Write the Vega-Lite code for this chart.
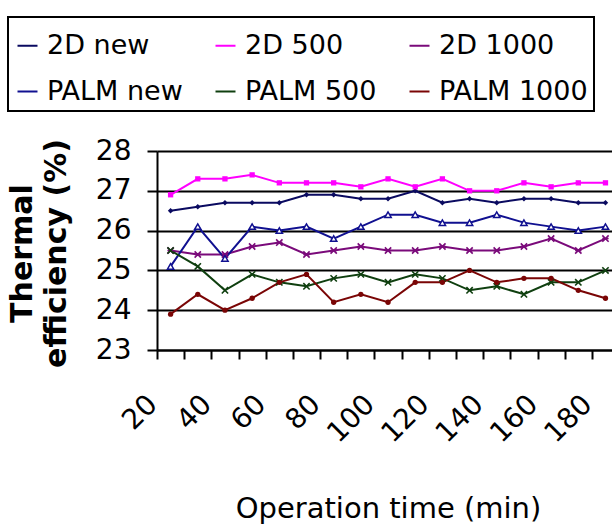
{
  "$schema": "https://vega.github.io/schema/vega-lite/v6.json",
  "autosize": {"type": "none"},
  "width": 455,
  "height": 199,
  "padding": {"left": 157, "top": 151, "right": 0, "bottom": 177},
  "background": "white",
  "config": {
    "font": "DejaVu Sans",
    "view": {"stroke": null},
    "legend": {"strokeWidth": 2},
    "axisY": {
      "values": [23, 24, 25, 26, 27, 28],
      "labelOverlap": false,
      "grid": true, "gridColor": "black", "gridWidth": 2, "gridOpacity": 1,
      "domainColor": "black", "domainWidth": 2,
      "tickColor": "black", "tickWidth": 2, "tickSize": 10,
      "labelFontSize": 28, "labelColor": "black", "labelPadding": 16
    }
  },
  "data": {
    "values": [
      {"t": 20, "s": "2D new", "v": 26.5}, {"t": 30, "s": "2D new", "v": 26.6}, {"t": 40, "s": "2D new", "v": 26.7}, {"t": 50, "s": "2D new", "v": 26.7}, {"t": 60, "s": "2D new", "v": 26.7}, {"t": 70, "s": "2D new", "v": 26.9}, {"t": 80, "s": "2D new", "v": 26.9}, {"t": 90, "s": "2D new", "v": 26.8}, {"t": 100, "s": "2D new", "v": 26.8}, {"t": 110, "s": "2D new", "v": 27.0}, {"t": 120, "s": "2D new", "v": 26.7}, {"t": 130, "s": "2D new", "v": 26.8}, {"t": 140, "s": "2D new", "v": 26.7}, {"t": 150, "s": "2D new", "v": 26.8}, {"t": 160, "s": "2D new", "v": 26.8}, {"t": 170, "s": "2D new", "v": 26.7}, {"t": 180, "s": "2D new", "v": 26.7},
      {"t": 20, "s": "2D 500", "v": 26.9}, {"t": 30, "s": "2D 500", "v": 27.3}, {"t": 40, "s": "2D 500", "v": 27.3}, {"t": 50, "s": "2D 500", "v": 27.4}, {"t": 60, "s": "2D 500", "v": 27.2}, {"t": 70, "s": "2D 500", "v": 27.2}, {"t": 80, "s": "2D 500", "v": 27.2}, {"t": 90, "s": "2D 500", "v": 27.1}, {"t": 100, "s": "2D 500", "v": 27.3}, {"t": 110, "s": "2D 500", "v": 27.1}, {"t": 120, "s": "2D 500", "v": 27.3}, {"t": 130, "s": "2D 500", "v": 27.0}, {"t": 140, "s": "2D 500", "v": 27.0}, {"t": 150, "s": "2D 500", "v": 27.2}, {"t": 160, "s": "2D 500", "v": 27.1}, {"t": 170, "s": "2D 500", "v": 27.2}, {"t": 180, "s": "2D 500", "v": 27.2},
      {"t": 20, "s": "2D 1000", "v": 25.5}, {"t": 30, "s": "2D 1000", "v": 25.4}, {"t": 40, "s": "2D 1000", "v": 25.4}, {"t": 50, "s": "2D 1000", "v": 25.6}, {"t": 60, "s": "2D 1000", "v": 25.7}, {"t": 70, "s": "2D 1000", "v": 25.4}, {"t": 80, "s": "2D 1000", "v": 25.5}, {"t": 90, "s": "2D 1000", "v": 25.6}, {"t": 100, "s": "2D 1000", "v": 25.5}, {"t": 110, "s": "2D 1000", "v": 25.5}, {"t": 120, "s": "2D 1000", "v": 25.6}, {"t": 130, "s": "2D 1000", "v": 25.5}, {"t": 140, "s": "2D 1000", "v": 25.5}, {"t": 150, "s": "2D 1000", "v": 25.6}, {"t": 160, "s": "2D 1000", "v": 25.8}, {"t": 170, "s": "2D 1000", "v": 25.5}, {"t": 180, "s": "2D 1000", "v": 25.8},
      {"t": 20, "s": "PALM new", "v": 25.1}, {"t": 30, "s": "PALM new", "v": 26.1}, {"t": 40, "s": "PALM new", "v": 25.3}, {"t": 50, "s": "PALM new", "v": 26.1}, {"t": 60, "s": "PALM new", "v": 26.0}, {"t": 70, "s": "PALM new", "v": 26.1}, {"t": 80, "s": "PALM new", "v": 25.8}, {"t": 90, "s": "PALM new", "v": 26.1}, {"t": 100, "s": "PALM new", "v": 26.4}, {"t": 110, "s": "PALM new", "v": 26.4}, {"t": 120, "s": "PALM new", "v": 26.2}, {"t": 130, "s": "PALM new", "v": 26.2}, {"t": 140, "s": "PALM new", "v": 26.4}, {"t": 150, "s": "PALM new", "v": 26.2}, {"t": 160, "s": "PALM new", "v": 26.1}, {"t": 170, "s": "PALM new", "v": 26.0}, {"t": 180, "s": "PALM new", "v": 26.1},
      {"t": 20, "s": "PALM 500", "v": 25.5}, {"t": 30, "s": "PALM 500", "v": 25.1}, {"t": 40, "s": "PALM 500", "v": 24.5}, {"t": 50, "s": "PALM 500", "v": 24.9}, {"t": 60, "s": "PALM 500", "v": 24.7}, {"t": 70, "s": "PALM 500", "v": 24.6}, {"t": 80, "s": "PALM 500", "v": 24.8}, {"t": 90, "s": "PALM 500", "v": 24.9}, {"t": 100, "s": "PALM 500", "v": 24.7}, {"t": 110, "s": "PALM 500", "v": 24.9}, {"t": 120, "s": "PALM 500", "v": 24.8}, {"t": 130, "s": "PALM 500", "v": 24.5}, {"t": 140, "s": "PALM 500", "v": 24.6}, {"t": 150, "s": "PALM 500", "v": 24.4}, {"t": 160, "s": "PALM 500", "v": 24.7}, {"t": 170, "s": "PALM 500", "v": 24.7}, {"t": 180, "s": "PALM 500", "v": 25.0},
      {"t": 20, "s": "PALM 1000", "v": 23.9}, {"t": 30, "s": "PALM 1000", "v": 24.4}, {"t": 40, "s": "PALM 1000", "v": 24.0}, {"t": 50, "s": "PALM 1000", "v": 24.3}, {"t": 60, "s": "PALM 1000", "v": 24.7}, {"t": 70, "s": "PALM 1000", "v": 24.9}, {"t": 80, "s": "PALM 1000", "v": 24.2}, {"t": 90, "s": "PALM 1000", "v": 24.4}, {"t": 100, "s": "PALM 1000", "v": 24.2}, {"t": 110, "s": "PALM 1000", "v": 24.7}, {"t": 120, "s": "PALM 1000", "v": 24.7}, {"t": 130, "s": "PALM 1000", "v": 25.0}, {"t": 140, "s": "PALM 1000", "v": 24.7}, {"t": 150, "s": "PALM 1000", "v": 24.8}, {"t": 160, "s": "PALM 1000", "v": 24.8}, {"t": 170, "s": "PALM 1000", "v": 24.5}, {"t": 180, "s": "PALM 1000", "v": 24.3}
    ]
  },
  "layer": [
    {
      "mark": {"type": "line", "strokeWidth": 2},
      "encoding": {
        "x": {
          "field": "t", "type": "quantitative",
          "scale": {"domain": [15, 182.4], "nice": false, "zero": false},
          "axis": {
            "orient": "bottom",
            "values": [15, 25, 35, 45, 55, 65, 75, 85, 95, 105, 115, 125, 135, 145, 155, 165, 175],
            "labels": false, "ticks": true, "tickSize": 9, "tickColor": "black", "tickWidth": 2,
            "domain": true, "domainColor": "black", "domainWidth": 2, "grid": false, "title": null
          }
        },
        "y": {
          "field": "v", "type": "quantitative",
          "scale": {"domain": [23, 28], "nice": false, "zero": false},
          "axis": {
            "values": [23, 24, 25, 26, 27, 28],
            "labelOverlap": false,
            "title": ["Thermal", "efficiency (%)"],
            "titleFontSize": 30, "titleFontWeight": "bold", "titleColor": "black",
            "titleLineHeight": 34, "titleAngle": -90, "titleAlign": "center", "titleBaseline": "alphabetic",
            "titleX": -126, "titleY": 102
          }
        },
        "color": {
          "field": "s", "type": "nominal",
          "scale": {
            "domain": ["2D new", "2D 500", "2D 1000", "PALM new", "PALM 500", "PALM 1000"],
            "range": ["#0a0a60", "#ff00ff", "#7a0a7a", "#101090", "#0f3f0f", "#7a0505"]
          },
          "legend": {
            "orient": "none", "legendX": -149, "legendY": -134,
            "columns": 3, "direction": "horizontal",
            "title": " ", "titleFontSize": 8, "titlePadding": 1,
            "labelFontSize": 27, "labelColor": "black", "labelOffset": 6,
            "symbolType": "stroke", "symbolStrokeWidth": 2, "symbolSize": 400,
            "strokeColor": "black", "padding": 6, "columnPadding": 28, "rowPadding": 18,
            "fillColor": "white"
          }
        }
      }
    },
    {
      "encoding": {
        "x": {
          "field": "t", "type": "quantitative",
          "axis": {
            "orient": "bottom",
            "values": [20, 40, 60, 80, 100, 120, 140, 160, 180],
            "ticks": false, "domain": false, "grid": false, "labelOverlap": false,
            "labelAngle": -45, "labelAlign": "right", "labelBaseline": "middle",
            "labelFontSize": 28, "labelColor": "black", "labelPadding": 50, "labelOffset": -18,
            "title": "Operation time (min)", "titleFontSize": 29, "titleFontWeight": "normal", "titleColor": "black",
            "titleAlign": "center", "titleBaseline": "alphabetic", "titleX": 231, "titleY": 167
          }
        },
        "y": {
          "field": "v", "type": "quantitative",
          "axis": {
            "values": [23, 24, 25, 26, 27, 28],
            "labelOverlap": false,
            "title": ["Thermal", "efficiency (%)"],
            "titleFontSize": 30, "titleFontWeight": "bold", "titleColor": "black",
            "titleLineHeight": 34, "titleAngle": -90, "titleAlign": "center", "titleBaseline": "alphabetic",
            "titleX": -126, "titleY": 102
          }
        }
      },
      "layer": [
        {
          "transform": [{"filter": {"field": "s", "equal": "2D new"}}],
          "mark": {"type": "point", "shape": "diamond", "filled": true, "color": "#0a0a60", "size": 30, "opacity": 1}
        },
        {
          "transform": [{"filter": {"field": "s", "equal": "2D 500"}}],
          "mark": {"type": "point", "shape": "square", "filled": true, "color": "#ff00ff", "size": 28, "opacity": 1}
        },
        {
          "transform": [{"filter": {"field": "s", "equal": "2D 1000"}}],
          "mark": {"type": "point", "shape": "M-1,-1L1,1M-1,1L1,-1M-1,0L1,0", "filled": false, "color": "#7a0a7a", "size": 40, "strokeWidth": 1.6, "opacity": 1}
        },
        {
          "transform": [{"filter": {"field": "s", "equal": "PALM new"}}],
          "mark": {"type": "point", "shape": "triangle-up", "filled": true, "fill": "white", "stroke": "#101090", "strokeWidth": 1.5, "size": 40, "opacity": 1}
        },
        {
          "transform": [{"filter": {"field": "s", "equal": "PALM 500"}}],
          "mark": {"type": "point", "shape": "M-1,-1L1,1M-1,1L1,-1", "filled": false, "color": "#0f3f0f", "size": 40, "strokeWidth": 1.6, "opacity": 1}
        },
        {
          "transform": [{"filter": {"field": "s", "equal": "PALM 1000"}}],
          "mark": {"type": "point", "shape": "circle", "filled": true, "color": "#7a0505", "size": 28, "opacity": 1}
        }
      ]
    }
  ],
  "resolve": {"axis": {"x": "independent"}}
}
